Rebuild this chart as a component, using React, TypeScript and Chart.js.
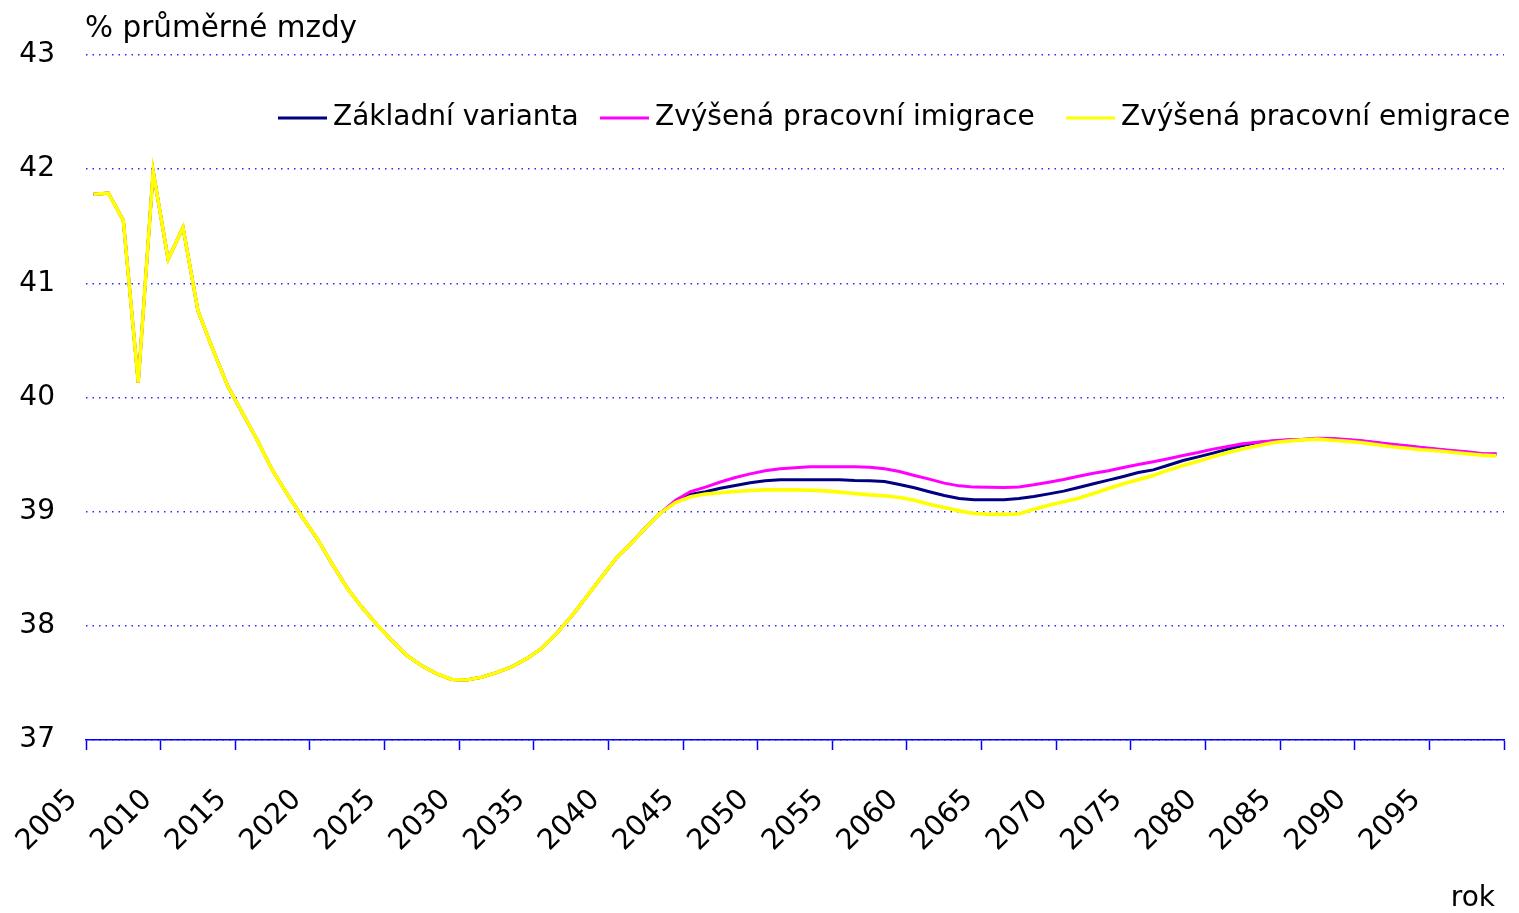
import React, { useEffect, useRef } from 'react';
import { Chart, registerables } from 'chart.js';

Chart.register(...registerables);

// ---- data ----
const years = [
  2005, 2006, 2007, 2008, 2009, 2010, 2011, 2012, 2013, 2014,
  2015, 2016, 2017, 2018, 2019, 2020, 2021, 2022, 2023, 2024,
  2025, 2026, 2027, 2028, 2029, 2030, 2031, 2032, 2033, 2034,
  2035, 2036, 2037, 2038, 2039, 2040, 2041, 2042, 2043, 2044,
  2045, 2046, 2047, 2048, 2049, 2050, 2051, 2052, 2053, 2054,
  2055, 2056, 2057, 2058, 2059, 2060, 2061, 2062, 2063, 2064,
  2065, 2066, 2067, 2068, 2069, 2070, 2071, 2072, 2073, 2074,
  2075, 2076, 2077, 2078, 2079, 2080, 2081, 2082, 2083, 2084,
  2085, 2086, 2087, 2088, 2089, 2090, 2091, 2092, 2093, 2094,
  2095, 2096, 2097, 2098, 2099,
];

// 2005–2043: identical for all three variants
const commonPath = [
  41.78, 41.79, 41.55, 40.13, 41.98, 41.21, 41.49, 40.76, 40.42, 40.10,
  39.86, 39.62, 39.36, 39.15, 38.95, 38.76, 38.54, 38.33, 38.16, 38.01,
  37.87, 37.74, 37.65, 37.58, 37.53, 37.525, 37.55, 37.59, 37.64, 37.71,
  37.80, 37.93, 38.08, 38.25, 38.42, 38.59, 38.72, 38.86, 38.99,
];

// 2044–2099
const baseTail = [
  39.09, 39.15, 39.175, 39.205, 39.229, 39.253, 39.27, 39.279, 39.279, 39.279,
  39.279, 39.279, 39.273, 39.27, 39.264, 39.238, 39.209, 39.174, 39.142, 39.115,
  39.104, 39.104, 39.105, 39.115, 39.133, 39.156, 39.18, 39.212, 39.244, 39.276,
  39.308, 39.343, 39.366, 39.407, 39.448, 39.48, 39.513, 39.548, 39.58, 39.606,
  39.617, 39.625, 39.631, 39.64, 39.637, 39.628, 39.617, 39.602, 39.587, 39.573,
  39.558, 39.544, 39.532, 39.52, 39.506, 39.503,
];

const immigTail = [
  39.10, 39.175, 39.215, 39.26, 39.299, 39.331, 39.358, 39.375, 39.384, 39.393,
  39.393, 39.393, 39.393, 39.39, 39.375, 39.352, 39.317, 39.285, 39.25, 39.226,
  39.215, 39.213, 39.212, 39.217, 39.235, 39.258, 39.282, 39.311, 39.337, 39.358,
  39.387, 39.413, 39.437, 39.463, 39.492, 39.518, 39.548, 39.571, 39.594, 39.609,
  39.621, 39.629, 39.635, 39.644, 39.641, 39.632, 39.621, 39.606, 39.591, 39.577,
  39.562, 39.548, 39.536, 39.524, 39.51, 39.507,
];

const emigTail = [
  39.08, 39.13, 39.155, 39.165, 39.177, 39.185, 39.191, 39.191, 39.191, 39.188,
  39.182, 39.171, 39.159, 39.147, 39.139, 39.124, 39.10, 39.066, 39.036, 39.007,
  38.984, 38.978, 38.978, 38.98, 39.022, 39.057, 39.086, 39.118, 39.159, 39.203,
  39.244, 39.279, 39.317, 39.364, 39.404, 39.442, 39.48, 39.518, 39.548, 39.577,
  39.603, 39.618, 39.629, 39.635, 39.626, 39.616, 39.603, 39.586, 39.568, 39.556,
  39.543, 39.533, 39.521, 39.507, 39.495, 39.489,
];

const baseSeries = [...commonPath, ...baseTail];
const immigSeries = [...commonPath, ...immigTail];
const emigSeries = [...commonPath, ...emigTail];

const seriesLabels = ['Základní varianta', 'Zvýšená pracovní imigrace', 'Zvýšená pracovní emigrace'];
const seriesColors = ['#000080', '#ff00ff', '#ffff00'];
const yAxisTitle = '% průměrné mzdy';
const xAxisTitle = 'rok';

const yMin = 37;
const yMax = 43;
const xFirstBoundary = 2004.5;
const xLastBoundary = 2099.5;

// ---- layout / style constants ----
const W = 1519;
const H = 913;
const FONT = '"DejaVu Sans", sans-serif';
const legendLineX = [278, 600, 1066];
const legendY = 118;

const toPoints = (vals: number[]) => years.map((yr, i) => ({ x: yr, y: vals[i] }));

const overlayPlugin = {
  id: 'overlay',
  afterDraw(chart: any) {
    const ctx = chart.ctx as CanvasRenderingContext2D;
    ctx.save();
    ctx.fillStyle = '#000';
    ctx.textAlign = 'left';
    ctx.textBaseline = 'alphabetic';
    ctx.font = `29.5px ${FONT}`;
    ctx.fillText(yAxisTitle, 85, 37);

    ctx.font = `28px ${FONT}`;
    ctx.textBaseline = 'middle';
    seriesLabels.forEach((lab, i) => {
      const x0 = legendLineX[i];
      ctx.strokeStyle = seriesColors[i];
      ctx.lineWidth = 3;
      ctx.beginPath();
      ctx.moveTo(x0, legendY);
      ctx.lineTo(x0 + 49, legendY);
      ctx.stroke();
      ctx.fillStyle = '#000';
      ctx.fillText(lab, x0 + 55, legendY);
    });

    ctx.textAlign = 'right';
    ctx.textBaseline = 'alphabetic';
    ctx.font = `28px ${FONT}`;
    ctx.fillText(xAxisTitle, 1495, 906);
    ctx.restore();
  },
};

export default function App() {
  const ref = useRef<HTMLCanvasElement | null>(null);

  useEffect(() => {
    if (!ref.current) return;
    const chart = new Chart(ref.current, {
      type: 'line',
      data: {
        datasets: [
          {
            label: seriesLabels[0],
            data: toPoints(baseSeries),
            borderColor: seriesColors[0],
            backgroundColor: seriesColors[0],
            borderWidth: 3,
            pointRadius: 0,
            tension: 0,
            fill: false,
            order: 2,
          },
          {
            label: seriesLabels[1],
            data: toPoints(immigSeries),
            borderColor: seriesColors[1],
            backgroundColor: seriesColors[1],
            borderWidth: 3,
            pointRadius: 0,
            tension: 0,
            fill: false,
            order: 1,
          },
          {
            label: seriesLabels[2],
            data: toPoints(emigSeries),
            borderColor: seriesColors[2],
            backgroundColor: seriesColors[2],
            borderWidth: 3.6,
            pointRadius: 0,
            tension: 0,
            fill: false,
            order: 0,
          },
        ],
      },
      options: {
        animation: false,
        responsive: false,
        maintainAspectRatio: false,
        devicePixelRatio: 1,
        layout: { padding: { left: 0, right: 15, top: 55, bottom: 0 } },
        plugins: {
          legend: { display: false },
          tooltip: { enabled: false },
          title: { display: false },
        },
        scales: {
          x: {
            type: 'linear',
            min: xFirstBoundary,
            max: xLastBoundary,
            afterFit: (scale: any) => {
              scale.height = 173;
              scale.paddingLeft = 0;
              scale.paddingRight = 0;
            },
            ticks: {
              stepSize: 5,
              autoSkip: false,
              minRotation: 45,
              maxRotation: 45,
              labelOffset: -13,
              padding: 33,
              color: '#000',
              font: { family: FONT, size: 28.5 },
              callback: (v: any) => (Number(v) < 2099 ? String(Number(v) + 0.5) : ''),
            },
            grid: {
              display: true,
              drawOnChartArea: false,
              drawTicks: true,
              tickLength: 10,
              tickColor: '#0000ff',
              tickWidth: 1.5,
            },
            border: { display: true, color: '#0000ff', width: 1.5 },
          },
          y: {
            type: 'linear',
            min: yMin,
            max: yMax,
            afterFit: (scale: any) => {
              scale.width = 86;
            },
            ticks: {
              stepSize: 1,
              padding: 31,
              color: '#000',
              font: { family: FONT, size: 28 },
              callback: (v: any) => String(v),
            },
            grid: {
              display: true,
              drawTicks: false,
              color: '#2a2aff',
              lineWidth: 1.5,
              borderDash: [1.5, 5],
            } as any,
            border: { display: false, dash: [1.5, 5] },
          },
        },
      } as any,
      plugins: [overlayPlugin],
    });
    return () => chart.destroy();
  }, []);

  return (
    <div style={{ position: 'fixed', left: 0, top: 0, width: W, height: H, background: '#fff' }}>
      <canvas ref={ref} width={W} height={H} style={{ display: 'block', width: W, height: H }} />
    </div>
  );
}
